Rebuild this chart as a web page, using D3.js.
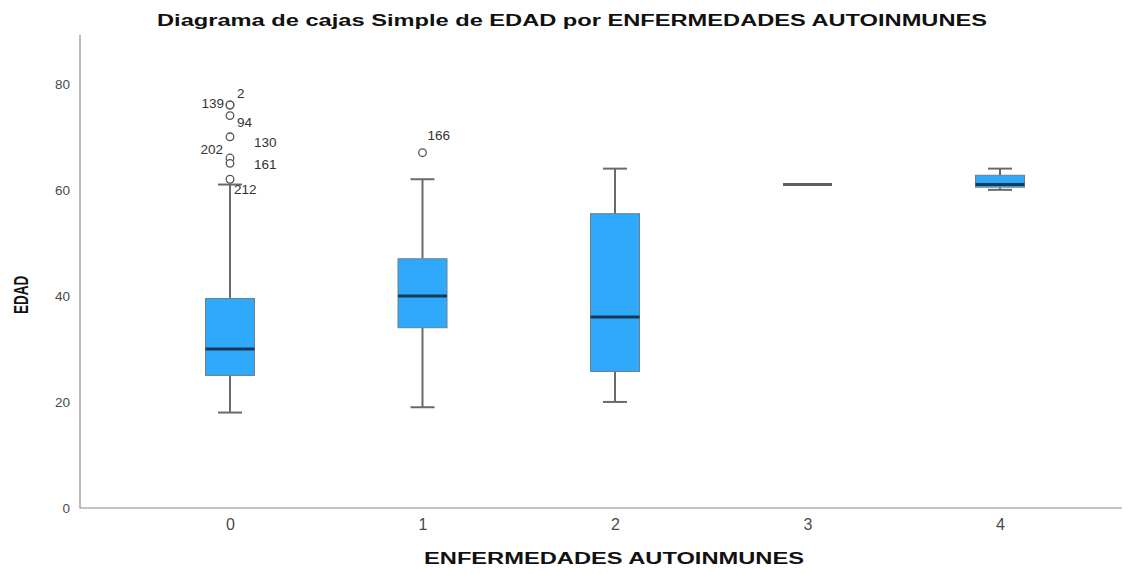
<!DOCTYPE html>
<html>
<head>
<meta charset="utf-8">
<script src="https://cdn.jsdelivr.net/npm/d3@7"></script>
<style>
  html, body { margin: 0; padding: 0; background: #fff; }
  svg { display: block; font-family: "Liberation Sans", Arial, sans-serif; }
</style>
</head>
<body>
<svg id="chart" width="1143" height="574"></svg>
<script>
// Age (EDAD) distribution by number of autoimmune diseases
const categories = ["0", "1", "2", "3", "4"];
const whiskerLow  = [18, 19, 20, 61, 60];
const q1          = [25, 34, 25.75, 61, 60.5];
const median      = [30, 40, 36, 61, 61];
const q3          = [39.5, 47, 55.5, 61, 62.75];
const whiskerHigh = [61, 62, 64, 61, 64];

// Outlying cases: group, age, case number
const outlierGroup = ["0", "0", "0", "0", "0", "0", "0", "1"];
const outlierValue = [76, 76, 74, 70, 66, 65, 62, 67];
const outlierCase  = ["139", "2", "94", "130", "202", "161", "212", "166"];

const yTicks = [0, 20, 40, 60, 80];

// Label placement for case numbers (offset from the point, text anchor)
const labelPlacement = {
  "139": [-6, 3, "end"],
  "2":   [7, -7, "start"],
  "94":  [7, 11, "start"],
  "130": [24, 10, "start"],
  "202": [-7, -4, "end"],
  "161": [24, 6, "start"],
  "212": [4, 15, "start"],
  "166": [5, -13, "start"]
};

const svg = d3.select("#chart");

const plot = { left: 80, right: 1122, top: 35, bottom: 508 };

const y = d3.scaleLinear().domain([0, 89.2]).range([plot.bottom, plot.top]);
const x = d3.scalePoint().domain(categories).range([230, 1000]).padding(0);

const boxW = 49;
const capW = 24;
const wide = 1.47;   // horizontal stretch of the bold titles

// Title
svg.append("text")
  .attr("x", 157).attr("y", 26)
  .attr("textLength", 830).attr("lengthAdjust", "spacingAndGlyphs")
  .attr("font-size", 16).attr("font-weight", "bold").attr("fill", "#111")
  .text("Diagrama de cajas Simple de EDAD por ENFERMEDADES AUTOINMUNES");

// Y axis
const yAxis = d3.axisLeft(y).tickValues(yTicks).tickSize(0).tickPadding(10);
const gy = svg.append("g").attr("transform", `translate(${plot.left},0)`).call(yAxis);
gy.select(".domain").remove();
gy.selectAll("text").attr("font-size", 13.5).attr("fill", "#4a4a4a")
  .attr("font-family", "'Liberation Sans', Arial, sans-serif");

// X axis
const xAxis = d3.axisBottom(x).tickSize(0).tickPadding(11);
const gx = svg.append("g").attr("transform", `translate(0,${plot.bottom})`).call(xAxis);
gx.select(".domain").remove();
gx.selectAll("text").attr("font-size", 16).attr("fill", "#4a4a4a")
  .attr("font-family", "'Liberation Sans', Arial, sans-serif");

// Axis lines
svg.append("path")
  .attr("d", `M${plot.left},${plot.top}V${plot.bottom}H${plot.right}`)
  .attr("fill", "none").attr("stroke", "#8a8a8a").attr("stroke-width", 1.2);

// Axis titles
svg.append("text")
  .attr("x", 424).attr("y", 564)
  .attr("textLength", 380).attr("lengthAdjust", "spacingAndGlyphs")
  .attr("font-size", 16).attr("font-weight", "bold").attr("fill", "#111")
  .text("ENFERMEDADES AUTOINMUNES");

svg.append("text")
  .attr("transform", `translate(28,${y(40) - 1}) scale(${wide},1) rotate(-90)`)
  .attr("text-anchor", "middle")
  .attr("font-size", 13.5).attr("font-weight", "bold").attr("fill", "#111")
  .text("EDAD");

// Boxes
const groups = categories.map((c, i) => ({
  c, lo: whiskerLow[i], q1: q1[i], med: median[i], q3: q3[i], hi: whiskerHigh[i]
}));

const g = svg.append("g");
groups.forEach(d => {
  const cx = x(d.c);
  const degenerate = d.q1 === d.q3;
  if (degenerate) {
    g.append("line")
      .attr("x1", cx - boxW / 2).attr("x2", cx + boxW / 2)
      .attr("y1", y(d.med)).attr("y2", y(d.med))
      .attr("stroke", "#5f5f5f").attr("stroke-width", 3);
    return;
  }
  // whiskers
  g.append("line").attr("x1", cx).attr("x2", cx)
    .attr("y1", y(d.hi)).attr("y2", y(d.q3))
    .attr("stroke", "#6a6a6a").attr("stroke-width", 2);
  g.append("line").attr("x1", cx).attr("x2", cx)
    .attr("y1", y(d.q1)).attr("y2", y(d.lo))
    .attr("stroke", "#6a6a6a").attr("stroke-width", 2);
  // caps
  [d.hi, d.lo].forEach(v => {
    g.append("line")
      .attr("x1", cx - capW / 2).attr("x2", cx + capW / 2)
      .attr("y1", y(v)).attr("y2", y(v))
      .attr("stroke", "#6a6a6a").attr("stroke-width", 2);
  });
  // box
  g.append("rect")
    .attr("x", cx - boxW / 2).attr("width", boxW)
    .attr("y", y(d.q3)).attr("height", y(d.q1) - y(d.q3))
    .attr("fill", "#2fa9fb").attr("stroke", "#6b7f8e").attr("stroke-width", 1);
  // median
  g.append("line")
    .attr("x1", cx - boxW / 2).attr("x2", cx + boxW / 2)
    .attr("y1", y(d.med)).attr("y2", y(d.med))
    .attr("stroke", "#163a55").attr("stroke-width", 3);
});

// Outliers
const outliers = outlierValue.map((v, i) => ({ g: outlierGroup[i], v, id: outlierCase[i] }));
const og = svg.append("g");
og.selectAll("circle").data(outliers).join("circle")
  .attr("cx", d => x(d.g)).attr("cy", d => y(d.v))
  .attr("r", 3.8)
  .attr("fill", "#fff").attr("stroke", "#555").attr("stroke-width", 1.3);

og.selectAll("text").data(outliers).join("text")
  .attr("x", d => x(d.g) + labelPlacement[d.id][0])
  .attr("y", d => y(d.v) + labelPlacement[d.id][1])
  .attr("text-anchor", d => labelPlacement[d.id][2])
  .attr("font-size", 13.5).attr("fill", "#333")
  .text(d => d.id);
</script>
</body>
</html>
